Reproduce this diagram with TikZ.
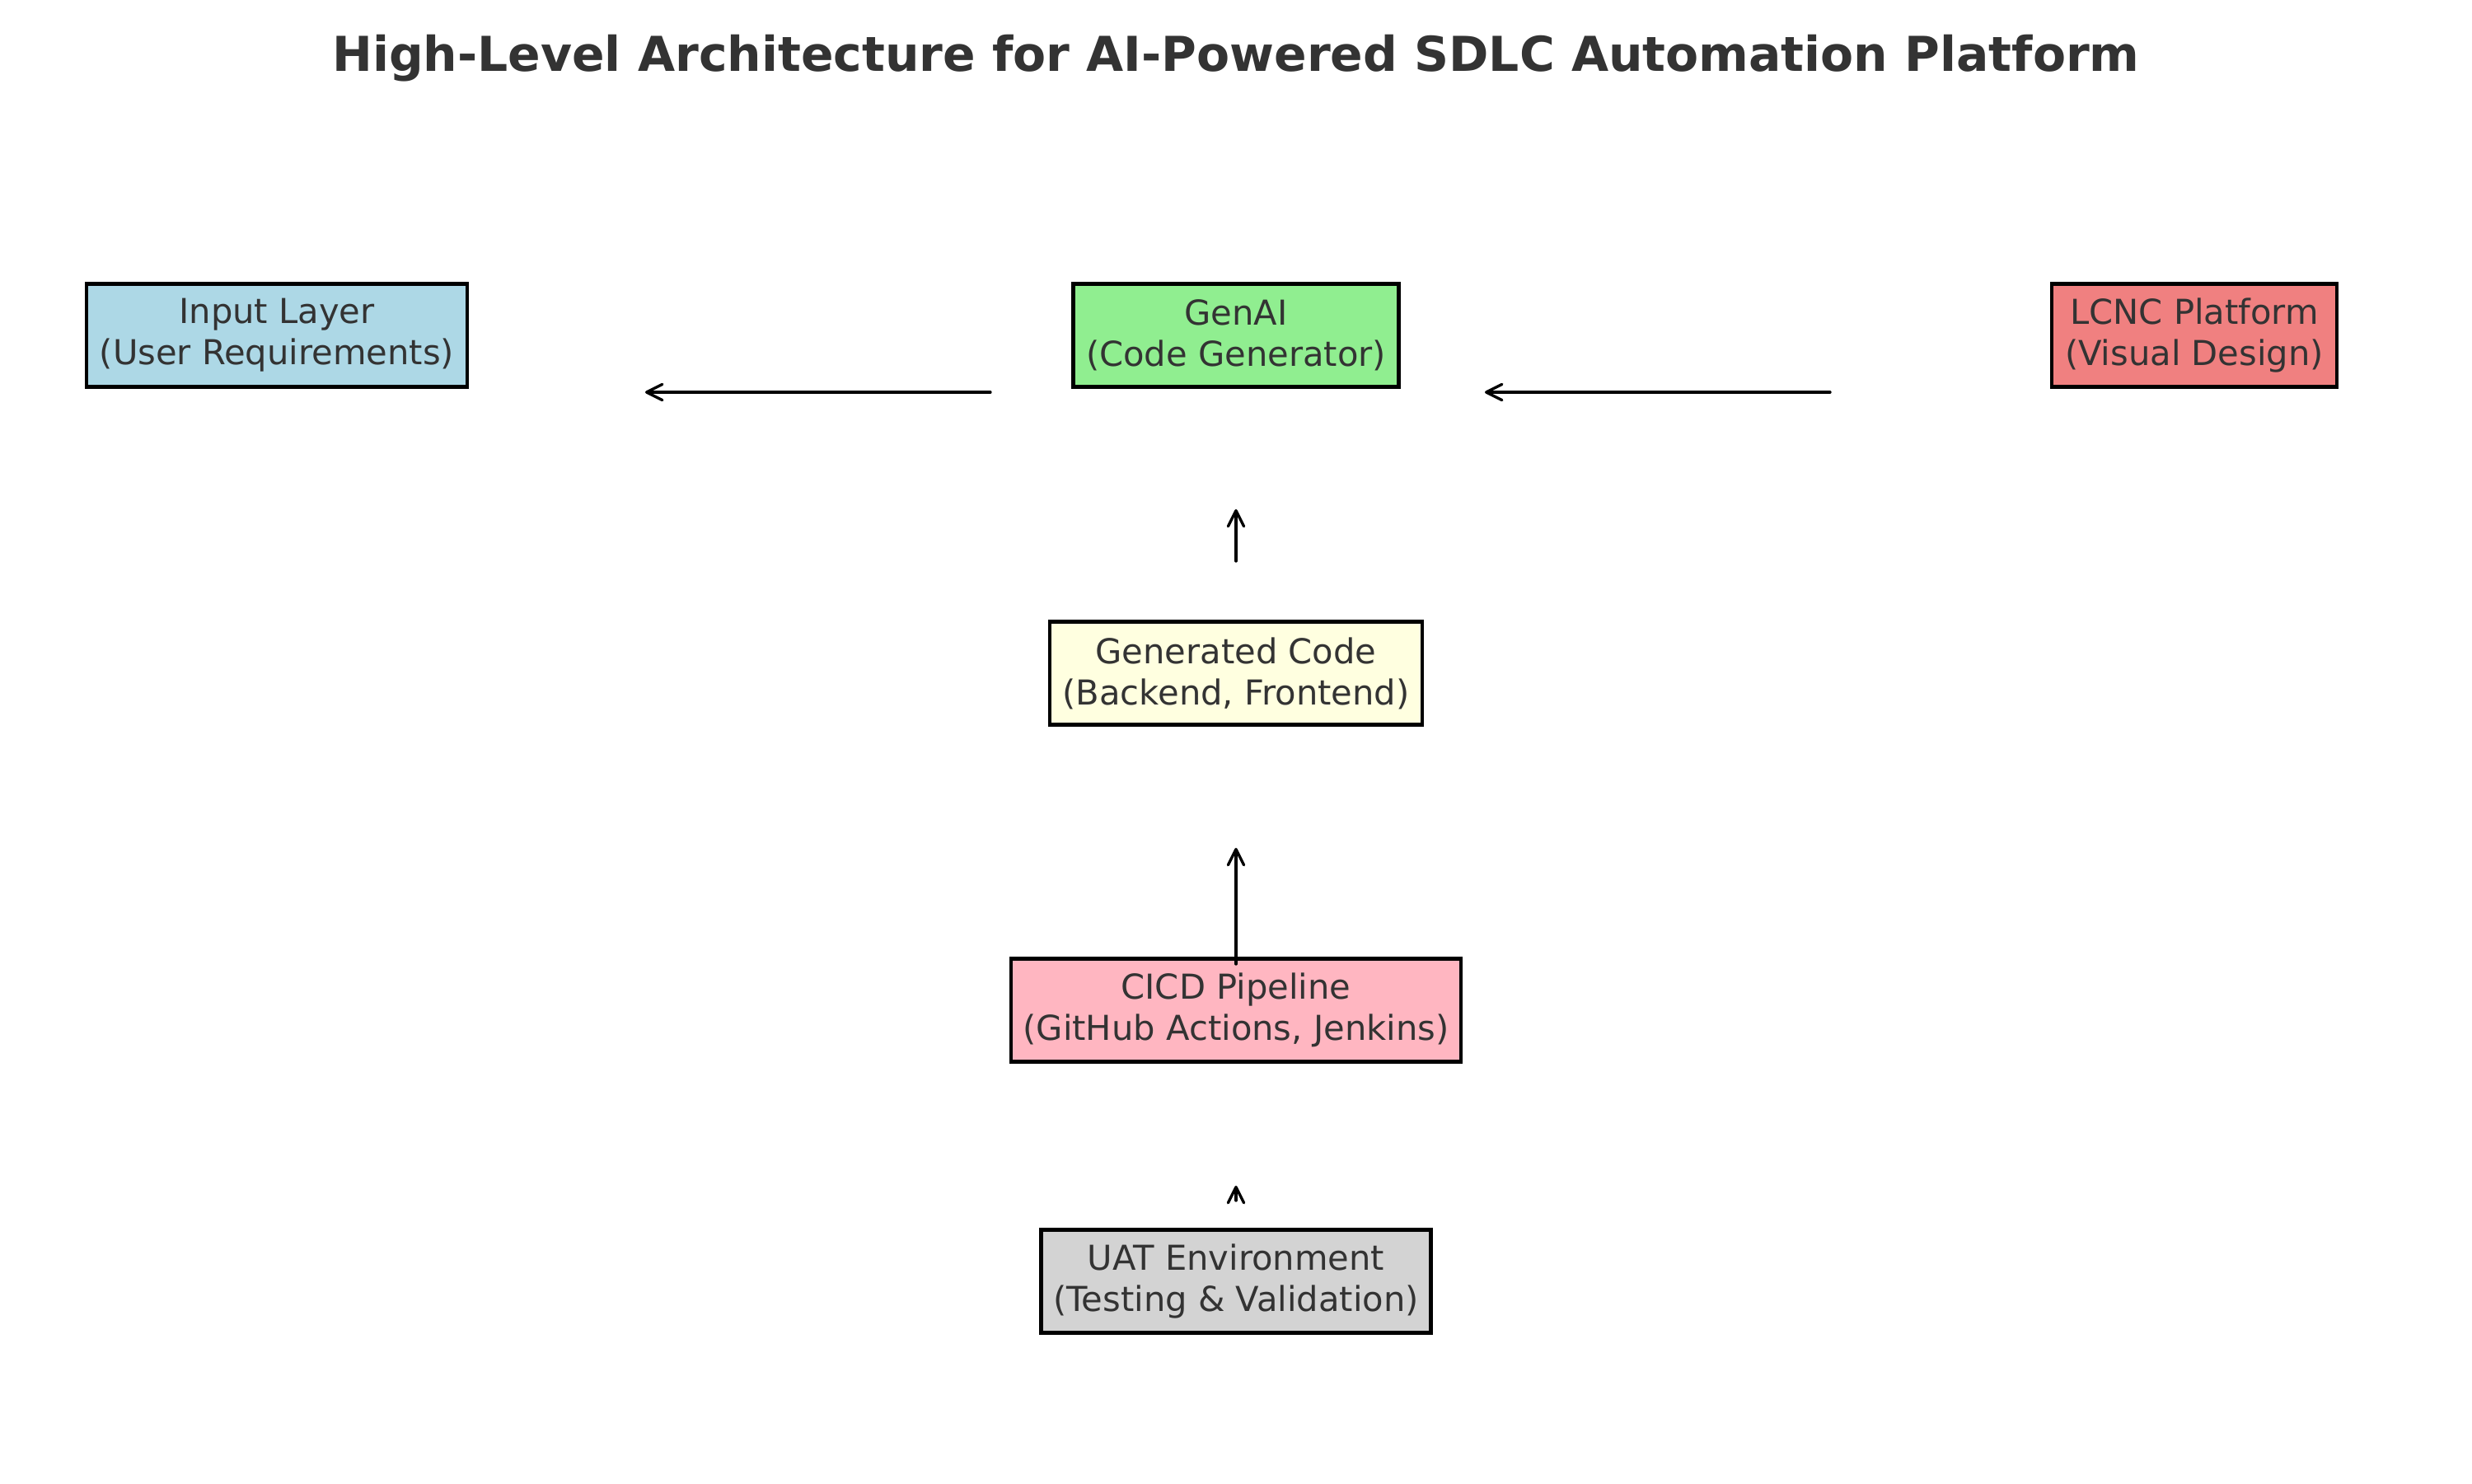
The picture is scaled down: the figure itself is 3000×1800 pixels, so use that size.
\documentclass[tikz,border=0pt]{standalone}
\usepackage{fontspec}
\setmainfont{DejaVu Sans}
\usetikzlibrary{arrows.meta}
\definecolor{txt}{HTML}{333333}
\definecolor{cblue}{HTML}{ADD8E6}
\definecolor{cgreen}{HTML}{90EE90}
\definecolor{ccoral}{HTML}{F08080}
\definecolor{cyellow}{HTML}{FFFFE0}
\definecolor{cpink}{HTML}{FFB6C1}
\definecolor{cgray}{HTML}{D3D3D3}
\tikzset{
  archbox/.style={draw=black, line width=1pt, rectangle, align=center,
    inner xsep=0pt, inner ysep=0pt, minimum height=30pt, text=txt,
    font=\fontsize{10}{12}\selectfont},
  flowarrow/.style={draw=black, line width=0.8pt, line cap=round,
    -{Straight Barb[length=4.6pt,width=4.6pt,round]}},
}
\begin{document}
\begin{tikzpicture}[x=0.24pt,y=-0.24pt]
\useasboundingbox (0,0) rectangle (3000,1800);
\fill[white] (0,0) rectangle (3000,1800);

\node[anchor=base, text=txt, font=\fontsize{14}{16.8}\selectfont\bfseries] (title) at (1500,86)
  {High-Level Architecture for AI-Powered SDLC Automation Platform};

\node[archbox, fill=cblue, minimum width=111pt] (input) at (336,407) {Input Layer\\(User Requirements)};
\node[archbox, fill=cgreen, minimum width=94.8pt] (genai) at (1500,407) {GenAI\\(Code Generator)};
\node[archbox, fill=ccoral, minimum width=83pt] (lcnc) at (2663,407) {LCNC Platform\\(Visual Design)};
\node[archbox, fill=cyellow, minimum width=108.4pt] (gencode) at (1500,817) {Generated Code\\(Backend, Frontend)};
\node[archbox, fill=cpink, minimum width=131.2pt] (cicd) at (1500,1226) {CICD Pipeline\\(GitHub Actions, Jenkins)};
\node[archbox, fill=cgray, minimum width=113.5pt] (uat) at (1500,1555) {UAT Environment\\(Testing \& Validation)};

\coordinate (a1s) at (1202,476);
\coordinate (a1e) at (783,476);
\coordinate (a2s) at (2221,476);
\coordinate (a2e) at (1802,476);
\coordinate (a3s) at (1500,681);
\coordinate (a3e) at (1500,618);
\coordinate (a4s) at (1500,1170);
\coordinate (a4e) at (1500,1029);
\coordinate (a5s) at (1500,1457);
\coordinate (a5e) at (1500,1439);

\draw[flowarrow] (a1s) -- (a1e);
\draw[flowarrow] (a2s) -- (a2e);
\draw[flowarrow] (a3s) -- (a3e);
\draw[flowarrow] (a4s) -- (a4e);
\draw[flowarrow] (a5s) -- (a5e);
\end{tikzpicture}
\end{document}
